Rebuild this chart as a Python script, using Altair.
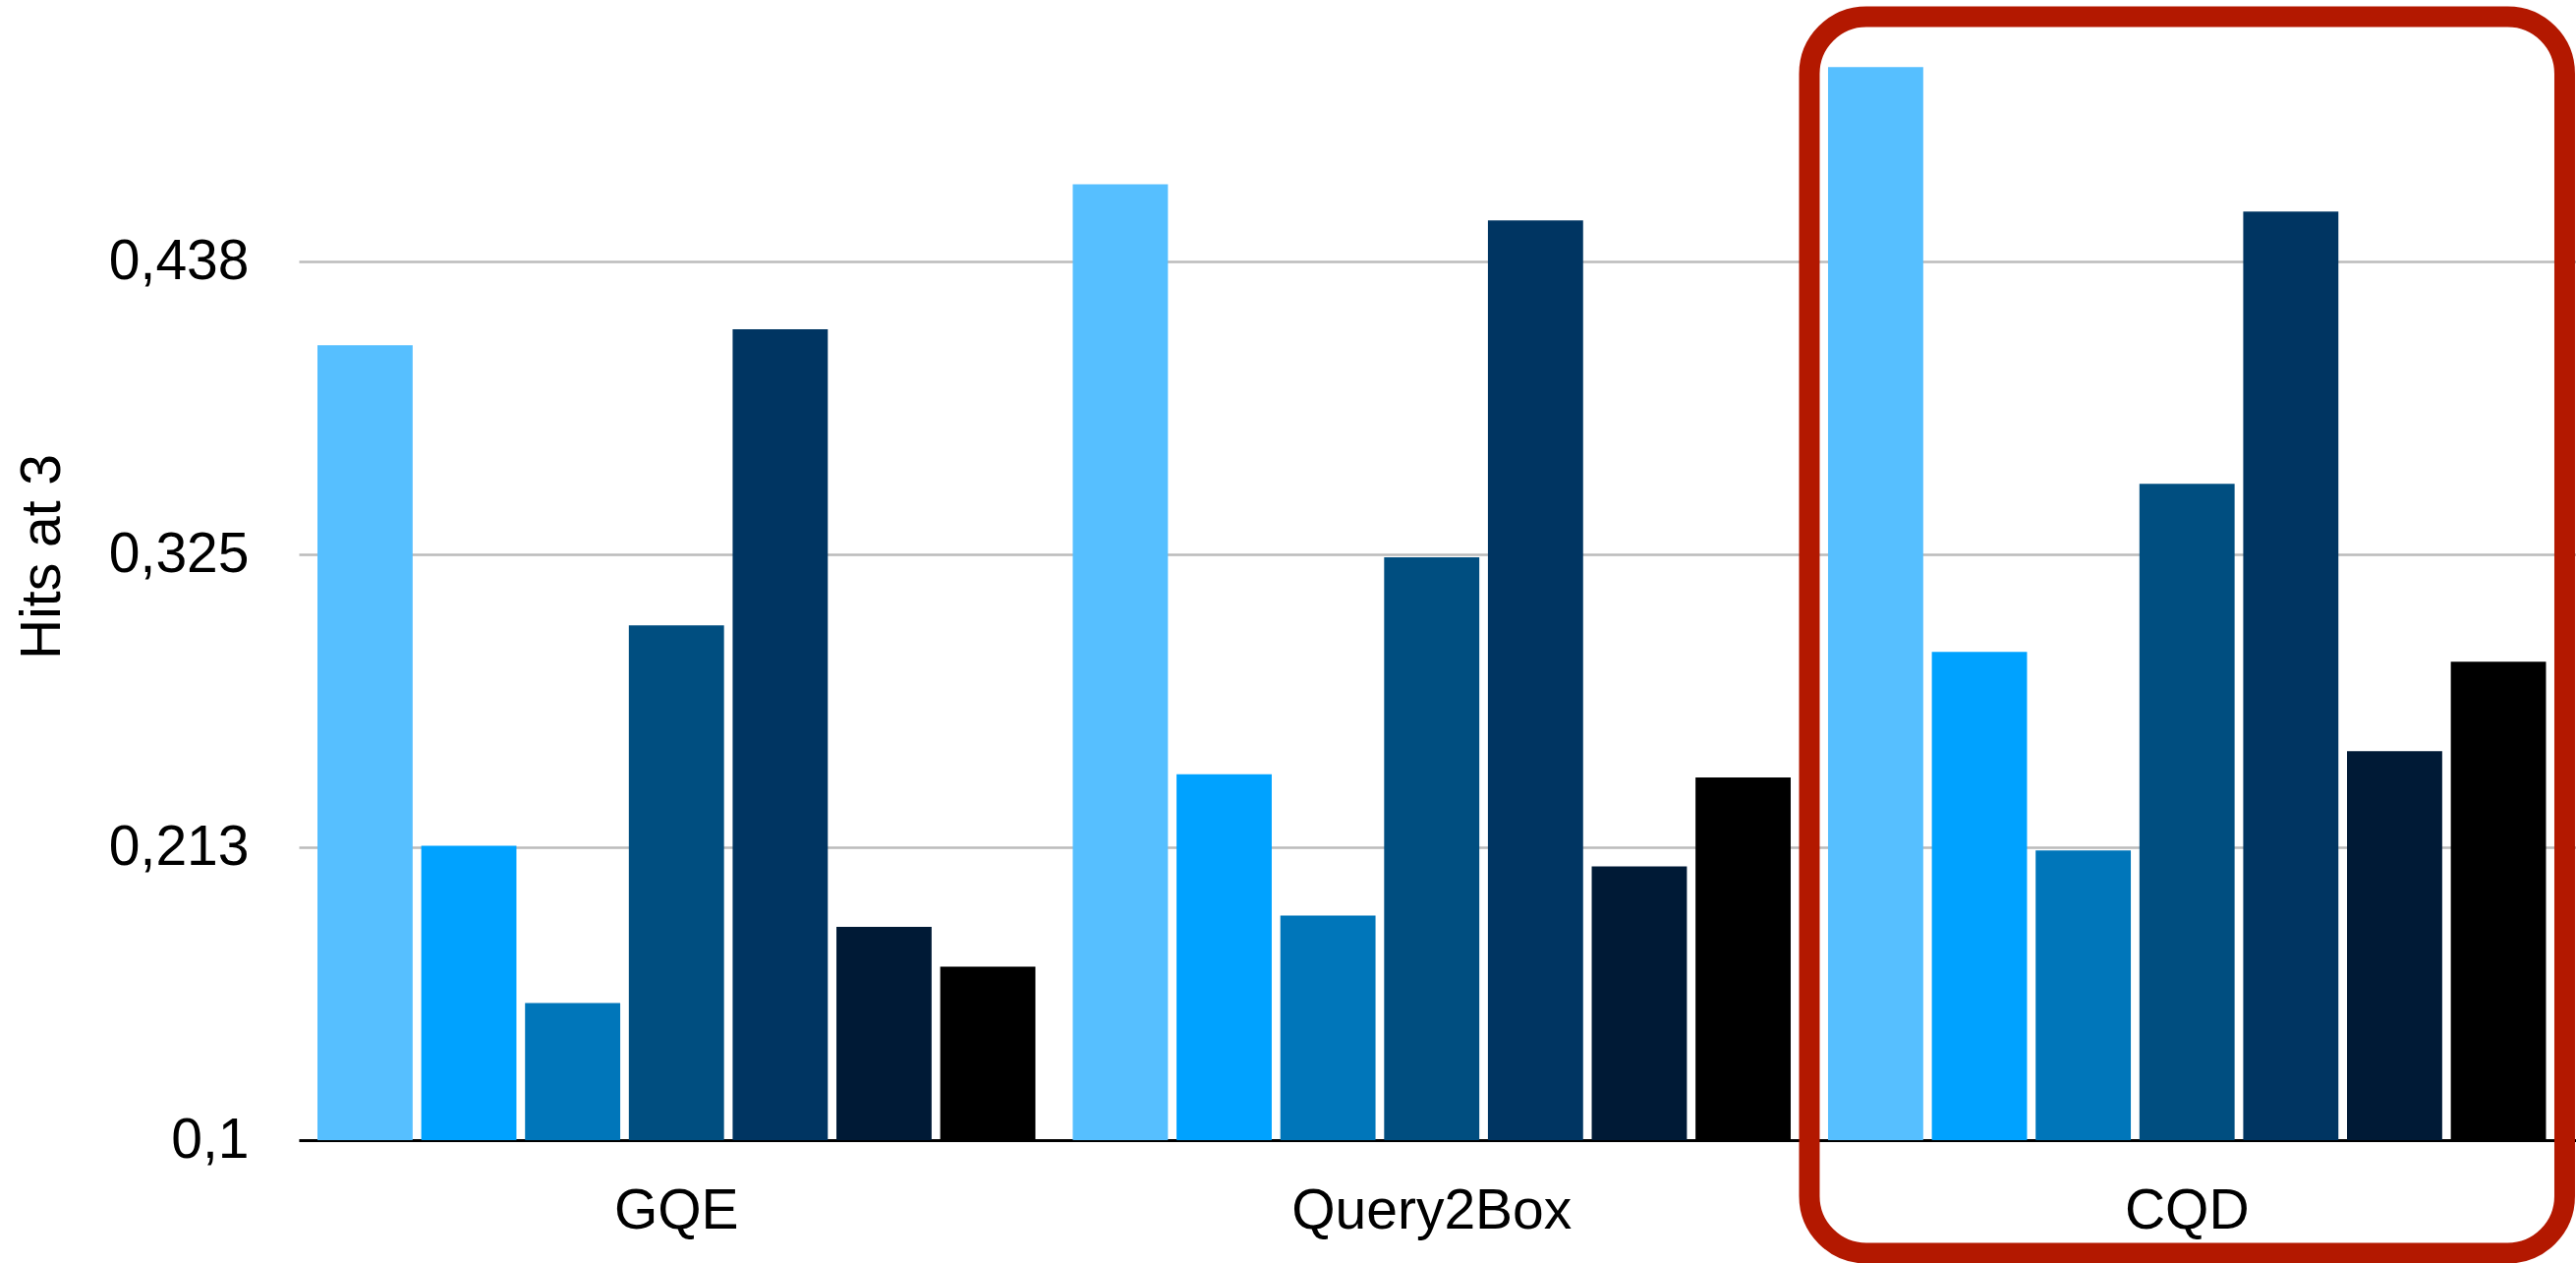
import altair as alt
import pandas as pd

# Models on the x axis and the seven bars drawn inside each model group
models = ["GQE", "Query2Box", "CQD"]
series = ["s1", "s2", "s3", "s4", "s5", "s6", "s7"]
series_colors = ["#56BFFF", "#00A2FF", "#0076BA", "#004E80", "#003562", "#001A36", "#000000"]

# Hits at 3, one list per model (same order as `series`)
gqe_hits = [0.4054, 0.2131, 0.1527, 0.2978, 0.4115, 0.1819, 0.1666]
q2b_hits = [0.4672, 0.2406, 0.1863, 0.3239, 0.4533, 0.2052, 0.2393]
cqd_hits = [0.5122, 0.2876, 0.2113, 0.3521, 0.4567, 0.2494, 0.2838]

# Y axis ticks and their printed labels (comma decimal separator)
tick_values = [0.1, 0.2125, 0.325, 0.4375]
tick_labels = ["0,1", "0,213", "0,325", "0,438"]

highlighted = ["CQD"]

rows = []
for model, hits in zip(models, [gqe_hits, q2b_hits, cqd_hits]):
    for s, v in zip(series, hits):
        rows.append({"model": model, "series": s, "hits": v})
df = pd.DataFrame(rows)
box_df = pd.DataFrame({"model": highlighted})

label_expr = " : ".join(
    f"datum.value == {v} ? '{t}'" for v, t in zip(tick_values, tick_labels)
) + " : ''"

FONT = "Liberation Sans"
FS = 57
PLOT_W = 2317
PLOT_H = 1160

x_scale = alt.Scale(domain=models, paddingInner=0, paddingOuter=0.0075, align=0)

bars = alt.Chart(df).mark_bar().encode(
    x=alt.X(
        "model:N",
        scale=x_scale,
        sort=models,
        axis=alt.Axis(
            title=None,
            labelAngle=0,
            labelFont=FONT,
            labelFontSize=FS,
            labelColor="#000000",
            labelPadding=44,
            labelLimit=0,
            ticks=False,
            domainColor="#000000",
            domainWidth=3,
            grid=False,
        ),
    ),
    xOffset=alt.XOffset(
        "series:N",
        sort=series,
        scale=alt.Scale(paddingInner=0.083, paddingOuter=0.18),
    ),
    y=alt.Y(
        "hits:Q",
        scale=alt.Scale(domain=[0.1, 0.538], zero=False, nice=False),
        axis=alt.Axis(
            title="Hits at 3",
            titleFont=FONT,
            titleFontSize=FS,
            titleFontWeight="normal",
            titleColor="#000000",
            titleAngle=-90,
            titleAlign="center",
            titleBaseline="alphabetic",
            titleX=-244,
            titleY=566,
            values=tick_values,
            labelExpr=label_expr,
            labelFont=FONT,
            labelFontSize=FS,
            labelColor="#000000",
            labelPadding=51,
            labelLimit=0,
            ticks=False,
            domain=False,
            grid=True,
            gridColor="#BBBBBB",
            gridWidth=2.5,
        ),
    ),
    y2=alt.datum(0.1),
    color=alt.Color(
        "series:N",
        scale=alt.Scale(domain=series, range=series_colors),
        legend=None,
    ),
)

# Rounded outline around the highlighted model group
box = alt.Chart(box_df).mark_rect(
    filled=False,
    stroke="#B31800",
    strokeWidth=21,
    cornerRadius=58,
).encode(
    x=alt.X("model:N", scale=x_scale, sort=models),
    y=alt.value(17),
    y2=alt.value(1275),
)

chart = (
    alt.layer(bars, box)
    .properties(
        width=PLOT_W,
        height=PLOT_H,
        autosize=alt.AutoSizeParams(type="none"),
        padding={"left": 304, "top": 0, "right": 0, "bottom": 125},
        background="#FFFFFF",
    )
    .configure_view(stroke=None)
)

chart.save("out.html", embed_options={"renderer": "svg", "actions": False})
